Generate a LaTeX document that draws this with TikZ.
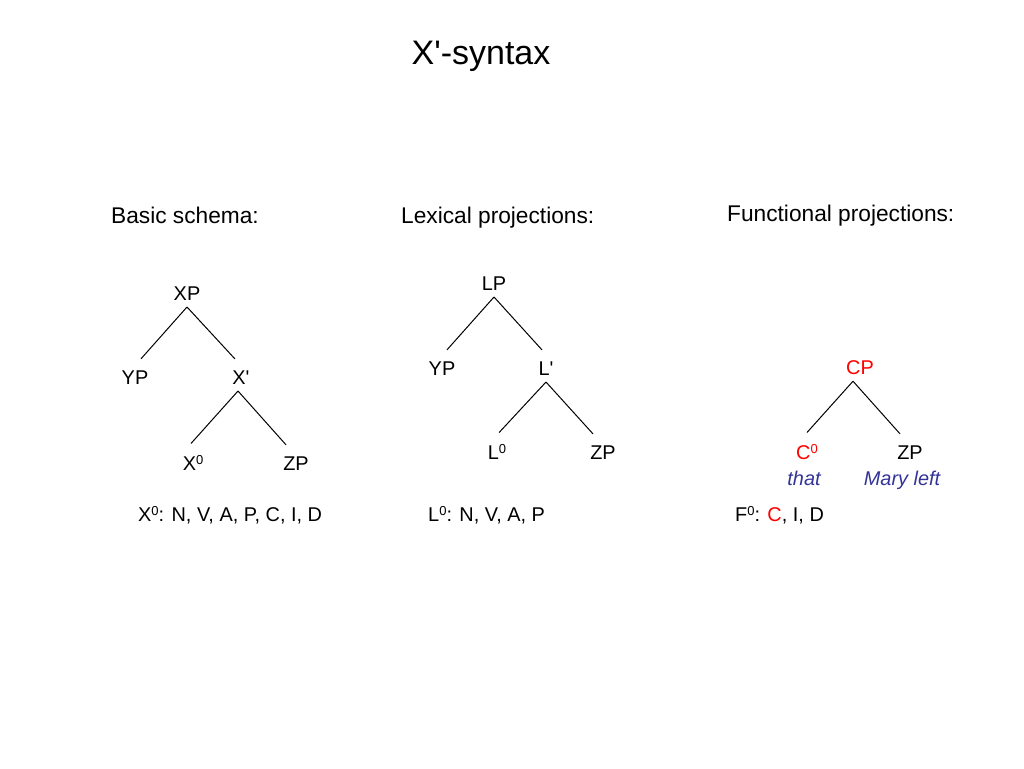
\documentclass[tikz,border=0pt]{standalone}
\usepackage{fontspec}
\setmainfont{Liberation Sans}
\usepackage{xcolor}
\usepackage{tikz}
\definecolor{navy}{HTML}{333399}
\newcommand{\zero}{\raisebox{.3em}{\fontsize{13}{13}\selectfont 0}}
\newcommand{\prm}{\textquotesingle}

\begin{document}
\begin{tikzpicture}[x=1pt, y=-1pt,
    lbl/.style={inner sep=0pt, outer ysep=7pt, anchor=base, font=\fontsize{19.9}{24}\selectfont},
    note/.style={lbl, anchor=base west},
    head/.style={inner sep=0pt, anchor=base west, font=\fontsize{22.7}{27}\selectfont},
    branch/.style={line width=1pt, shorten >=6pt}]
            \useasboundingbox (0, 0) rectangle (1024, 768);
            \node[inner sep=0pt, anchor=base, font=\fontsize{34}{40}\selectfont] (title) at (481, 64) {X\prm-syntax};
            % basic schema
            \node[head] (hbasic) at (111, 223) {Basic schema:};
            \node[lbl] (xp) at (187, 300) {XP};
            \node[lbl] (yp1) at (135, 384) {YP};
            \node[lbl] (xbar) at (241, 384) {X\prm};
            \node[lbl] (x0) at (193, 470) {X\zero};
            \node[lbl] (zp1) at (296, 470) {ZP};
            \draw[branch] (xp.south) -- ([xshift=2pt]yp1.north);
            \draw[branch] (xp.south) -- ([xshift=-2pt]xbar.north);
            \draw[branch] ([xshift=-3pt]xbar.south) -- ([xshift=-6pt]x0.north);
            \draw[branch] ([xshift=-3pt]xbar.south) -- ([xshift=-6pt]zp1.north);
            \node[note] (nbasic) at (138, 521) {X\zero: N, V, A, P, C, I, D};
            % lexical projections
            \node[head] (hlex) at (401, 223) {Lexical projections:};
            \node[lbl] (lp) at (494, 290) {LP};
            \node[lbl] (yp2) at (442, 375) {YP};
            \node[lbl] (lbar) at (546, 375) {L\prm};
            \node[lbl] (l0) at (497, 459) {L\zero};
            \node[lbl] (zp2) at (603, 459) {ZP};
            \draw[branch] (lp.south) -- ([xshift=1pt]yp2.north);
            \draw[branch] (lp.south) -- (lbar.north);
            \draw[branch] (lbar.south) -- ([xshift=-2pt]l0.north);
            \draw[branch] (lbar.south) -- ([xshift=-6pt]zp2.north);
            \node[note] (nlex) at (428, 521) {L\zero: N, V, A, P};
            % functional projections
            \node[head] (hfun) at (727, 221) {Functional projections:};
            \node[lbl, red] (cp) at (860, 374) {CP};
            \node[lbl, red] (c0) at (807, 459) {C\zero};
            \node[lbl] (zp3) at (910, 459) {ZP};
            \node[lbl, navy, font=\fontsize{19.9}{24}\selectfont\itshape] (that) at (804, 485) {that};
            \node[lbl, navy, font=\fontsize{19.9}{24}\selectfont\itshape] (mary) at (902, 485) {Mary left};
            \draw[branch] ([xshift=-7pt]cp.south) -- ([xshift=-4pt]c0.north);
            \draw[branch] ([xshift=-7pt]cp.south) -- ([xshift=-6pt]zp3.north);
            \node[note] (nfun) at (735, 521) {F\zero: \textcolor{red}{C}, I, D};
          \end{tikzpicture}
\end{document}
